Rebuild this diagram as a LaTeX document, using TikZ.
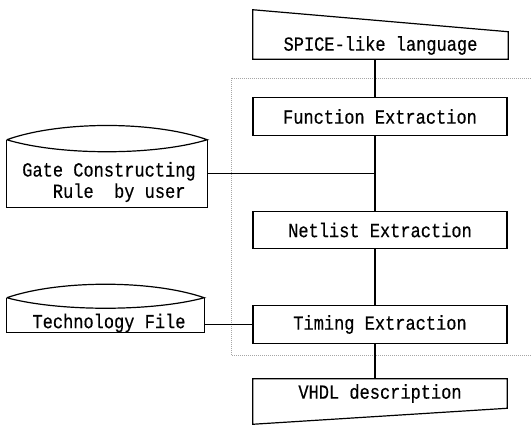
\documentclass[tikz,border=0pt]{standalone}
\usepackage{fontspec}
\setmainfont{Liberation Mono}[FakeStretch=0.85,FakeBold=0.4]
\usetikzlibrary{calc}
\begin{document}
\begin{tikzpicture}[x=0.75pt,y=-0.75pt,
  every node/.style={font=\fontsize{15}{15}\selectfont},
  ln/.style={line width=0.9pt},
  boxnode/.style={draw,ln,rectangle,inner sep=0pt,minimum width=190.5pt,minimum height=28.5pt},
  plainbody/.style={rectangle,inner sep=0pt},
  bound/.style={densely dotted,gray!70,line width=0.5pt}]
\useasboundingbox (0,0) rectangle (531,425);

% dotted boundary of the extraction block
\draw[bound] (531,78) -- (231,78) -- (231,355) -- (531,355);

% SPICE-like language (manual input shape)
\node[plainbody,minimum width=191.25pt,minimum height=20.25pt] (spice) at (380.5,45.5) {SPICE-like language};
\draw[ln] (spice.south west) -- ($(spice.north west)+(0,-22)$) -- (spice.north east) -- (spice.south east) -- cycle;

% process boxes
\node[boxnode] (fe) at (380,116.5) {Function Extraction};
\node[boxnode,minimum height=27.75pt] (nl) at (380,230) {Netlist Extraction};
\node[boxnode] (te) at (380,324.5) {Timing Extraction};

% VHDL description
\node[plainbody,minimum width=190.5pt,minimum height=21.75pt] (vhdl) at (380,393.5) {VHDL description};
\draw[ln] (vhdl.north west) -- (vhdl.north east) -- (vhdl.south east) -- ($(vhdl.south west)+(0,16)$) -- cycle;

% Gate Constructing Rule cylinder
\node[plainbody,minimum width=150pt,minimum height=50.25pt] (gate) at (107,173.5) {};
\draw[ln] (gate.north west) -- (gate.south west) -- (gate.south east) -- (gate.north east);
\draw[ln] (gate.north west) .. controls ($(gate.north west)+(53,-19)$) and ($(gate.north east)+(-53,-19)$) .. (gate.north east)
  .. controls ($(gate.north east)+(-53,16)$) and ($(gate.north west)+(53,16)$) .. (gate.north west);
\node[align=left,inner sep=0pt] (gatetxt) at (109,182) {Gate Constructing\\[1pt]\phantom{xxx}Rule\phantom{x} by user};

% Technology File cylinder
\node[plainbody,minimum width=147.75pt,minimum height=25.5pt] (tech) at (105.5,315) {};
\draw[ln] (tech.north west) -- (tech.south west) -- (tech.south east) -- (tech.north east);
\draw[ln] (tech.north west) .. controls ($(tech.north west)+(52,-18)$) and ($(tech.north east)+(-52,-18)$) .. (tech.north east)
  .. controls ($(tech.north east)+(-52,14)$) and ($(tech.north west)+(52,14)$) .. (tech.north west);
\node[inner sep=0pt] (techtxt) at (109,323) {Technology File};

% main flow
\coordinate (ax) at (375,0);
\draw[ln] (spice.south -| ax) -- (fe.north -| ax);
\draw[ln] (fe.south -| ax) -- (nl.north -| ax);
\draw[ln] (nl.south -| ax) -- (te.north -| ax);
\draw[ln] (te.south -| ax) -- (vhdl.north -| ax);

% side inputs
\coordinate (gj) at (375,173.5);
\draw[ln] (gate.east) -- (gj);
\draw[ln] (tech.east |- te.west) -- (te.west);
\end{tikzpicture}
\end{document}
